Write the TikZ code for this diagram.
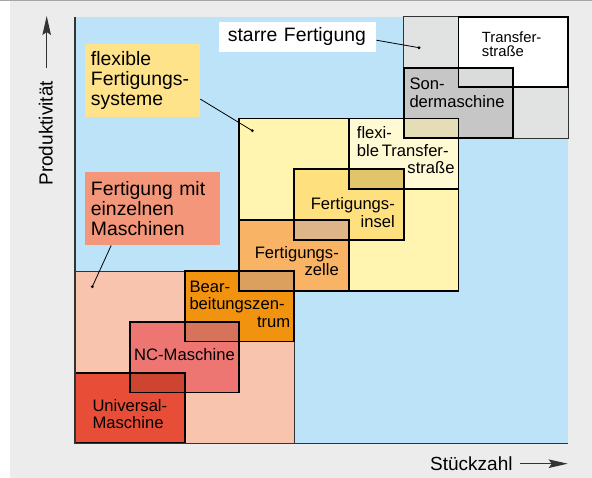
\documentclass[tikz,border=0pt]{standalone}
\usepackage{fontspec}
\setmainfont{Liberation Sans}
\usetikzlibrary{arrows.meta}
\definecolor{bggray}{HTML}{ECECEC}
\definecolor{topline}{HTML}{A6A6A6}
\definecolor{plotblue}{HTML}{BDE3F8}
\definecolor{axisgray}{HTML}{333333}
\definecolor{starregray}{HTML}{E1E2E2}
\definecolor{sondergray}{HTML}{C6C6C6}
\definecolor{flexyellow}{HTML}{FFF5B1}
\definecolor{flextrans}{HTML}{FFF9D4}
\definecolor{inselyellow}{HTML}{FFE07F}
\definecolor{zelleorange}{HTML}{F8B365}
\definecolor{bearborange}{HTML}{F29310}
\definecolor{ncred}{HTML}{EE7672}
\definecolor{univred}{HTML}{E84E37}
\definecolor{maschpink}{HTML}{F9C4AE}
\definecolor{flexlabel}{HTML}{FFE38B}
\definecolor{maschlabel}{HTML}{F39679}
\begin{document}
\begin{tikzpicture}[x=1pt,y=-1pt,>={Stealth[length=19pt,width=8.5pt,inset=3pt]},line join=miter,
	smallbox/.style={draw=black,line width=1.8pt},
	groupbox/.style={draw=axisgray,line width=1pt},
	lbl/.style={font=\fontsize{16.6}{17.2}\selectfont,inner sep=0pt},
	biglbl/.style={font=\fontsize{19.4}{20}\selectfont,inner ysep=0pt,anchor=north west},
	pointer/.style={line width=0.8pt},
	axis/.style={draw=axisgray,line width=1.5pt}]
	\useasboundingbox (0,0) rectangle (592,478);
	\fill[bggray] (0,0) rectangle (592,478);
	\fill[white] (0,0) rectangle (10,478);
	\fill[topline] (0,0) rectangle (592,1.2);
	\fill[plotblue] (75,16.9) rectangle (568,443.3);
	% gruppen
	\fill[maschpink] (75,271.1) rectangle (294.1,443.3);
	\fill[flexyellow] (239.3,118.6) rectangle (458.4,290.8);
	\fill[starregray] (403.7,16.9) rectangle (568,138.2);
	% einzelne kaesten
	\fill[univred] (75,372.8) rectangle (184.6,443.3);
	\fill[ncred] (129.8,322) rectangle (239.3,392.5);
	\fill[bearborange] (184.6,271.1) rectangle (294.1,341.6);
	\fill[zelleorange] (239.3,220.3) rectangle (348.9,290.8);
	\fill[inselyellow] (294.1,169.4) rectangle (403.7,239.9);
	\fill[flextrans] (348.9,118.6) rectangle (458.4,189.1);
	\fill[sondergray] (403.7,67.7) rectangle (513.2,138.2);
	\fill[white] (458.4,16.9) rectangle (568,87.4);
	% ueberlappungen
	\fill[fill={rgb,255:red,205;green,69;blue,48}] (129.8,372.8) rectangle (184.6,392.5);
	\fill[fill={rgb,255:red,215;green,115;blue,90}] (184.6,322) rectangle (239.3,341.6);
	\fill[fill={rgb,255:red,219;green,160;blue,94}] (239.3,271.1) rectangle (294.1,290.8);
	\fill[fill={rgb,255:red,221;green,181;blue,136}] (294.1,220.3) rectangle (348.9,239.9);
	\fill[fill={rgb,255:red,226;green,196;blue,107}] (348.9,169.4) rectangle (403.7,189.1);
	\fill[fill={rgb,255:red,228;green,221;blue,181}] (403.7,118.6) rectangle (458.4,138.2);
	\fill[fill={rgb,255:red,218;green,219;blue,219}] (458.4,67.7) rectangle (513.2,87.4);
	% raender
	\draw[groupbox] (75,271.1) rectangle (294.1,443.3);
	\draw[groupbox] (403.7,16.9) rectangle (568,138.2);
	\draw[smallbox] (239.3,118.6) rectangle (458.4,290.8);
	\draw[smallbox] (75,372.8) rectangle (184.6,443.3);
	\draw[smallbox] (129.8,322) rectangle (239.3,392.5);
	\draw[smallbox] (184.6,271.1) rectangle (294.1,341.6);
	\draw[smallbox] (239.3,220.3) rectangle (348.9,290.8);
	\draw[smallbox] (294.1,169.4) rectangle (403.7,239.9);
	\draw[smallbox] (348.9,118.6) rectangle (458.4,189.1);
	\draw[smallbox] (403.7,67.7) rectangle (513.2,138.2);
	\draw[smallbox] (458.4,16.9) rectangle (568,87.4);
	% achsen
	\draw[axis] (75,16.9)--(75,443.3)--(568,443.3);
	\coordinate (yFrom) at (46.7,68);
	\coordinate (yTo) at (46.7,16);
	\coordinate (xFrom) at (520,463.7);
	\coordinate (xTo) at (567.7,463.7);
	\draw[->,draw=axisgray,line width=1.2pt] (yFrom)--(yTo);
	\draw[->,draw=axisgray,line width=1.2pt] (xFrom)--(xTo);
	\node[font=\fontsize{19}{20}\selectfont,inner sep=0pt,rotate=90,anchor=base] (yLbl) at (52.7,133.3) {Produktivität};
	\node[font=\fontsize{19}{20}\selectfont,inner sep=0pt,anchor=base west] (xLbl) at (430,470) {Stückzahl};
	% beschriftungen der kaesten
	\node[lbl,align=left,text width=85pt,anchor=base west] (univ) at (92.3,411.7) {Universal-\\Maschine};
	\node[lbl,anchor=base west] (nc) at (134,360.7) {NC-Maschine};
	\node[lbl,align=left,text width=100.7pt,anchor=base west] (bearb) at (189.3,292.7) {Bear-\\beitungszen-\\\hfill trum};
	\node[lbl,align=right,text width=90pt,anchor=base east] (zelle) at (339,258.3) {Fertigungs-\\zelle};
	\node[lbl,align=right,text width=90pt,anchor=base east] (insel) at (395,210) {Fertigungs-\\insel};
	\node[lbl,align=left,text width=97.6pt,anchor=base west] (flextr) at (356.7,139) {flexi-\\ble\,Transfer-\\\hfill straße};
	\node[lbl,align=left,text width=100pt,anchor=base west] (sonder) at (409.3,90) {Son-\\dermaschine};
	\node[lbl,font=\fontsize{14.8}{14.6}\selectfont,align=left,text width=70pt,anchor=base west] (transfer) at (481.7,42.3) {Transfer-\\straße};
	% gruppenbeschriftungen
	\node[biglbl,fill=white,inner xsep=9.4pt,text width=138.9pt,minimum height=30pt,align=left] (starreLbl) at (218.3,21.7) {starre Fertigung};
	\node[biglbl,fill=flexlabel,inner xsep=5.7pt,text width=103.6pt,minimum height=72.7pt,align=left] (flexLbl) at (85,44) {flexible\\Fertigungs-\\systeme};
	\node[biglbl,fill=maschlabel,inner xsep=5.7pt,text width=123.6pt,minimum height=72.7pt,align=left] (maschLbl) at (85,172.3) {Fertigung mit\\einzelnen\\Maschinen};
	\coordinate (starreDot) at (419,47.7);
	\coordinate (flexDot) at (252.3,130.7);
	\coordinate (maschDot) at (92.3,286.7);
	\draw[pointer] ([yshift=-3.3pt]starreLbl.east)--(starreDot);
	\draw[pointer] ([yshift=-18.6pt]flexLbl.east)--(flexDot);
	\draw[pointer] ([xshift=-41.5pt]maschLbl.south)--(maschDot);
	\fill (starreDot) circle (1.6pt) (flexDot) circle (1.6pt) (maschDot) circle (1.6pt);
\end{tikzpicture}
\end{document}
